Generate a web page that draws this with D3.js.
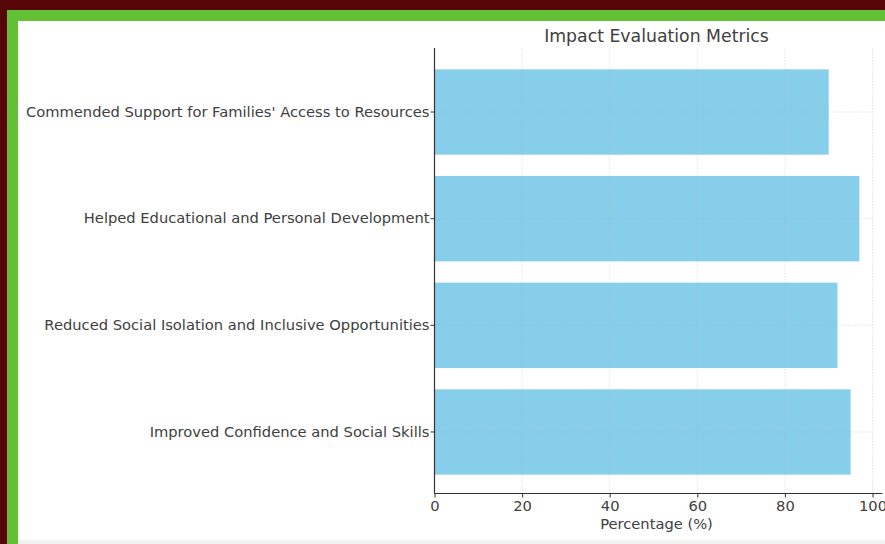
<!DOCTYPE html>
<html><head><meta charset="utf-8">
<script src="https://cdn.jsdelivr.net/npm/d3@7"></script>
<style>
html,body{margin:0;padding:0;background:#560606;}
svg{display:block;}
</style></head>
<body>
<svg id="chart" width="885" height="544"></svg>
<script>
const title = "Impact Evaluation Metrics";
const xLabel = "Percentage (%)";
const categories = [
  "Improved Confidence and Social Skills",
  "Reduced Social Isolation and Inclusive Opportunities",
  "Helped Educational and Personal Development",
  "Commended Support for Families' Access to Resources"
];
const values = [95, 92, 97, 90];
const xTicks = [0, 20, 40, 60, 80, 100];

const svg = d3.select("#chart");
// frame
svg.append("rect").attr("x",0).attr("y",0).attr("width",885).attr("height",544).attr("fill","#560606");
svg.append("rect").attr("x",7).attr("y",10).attr("width",878).attr("height",534).attr("fill","#63bf33");
svg.append("rect").attr("x",18).attr("y",21).attr("width",867).attr("height",523).attr("fill","#ffffff");
svg.append("rect").attr("x",18).attr("y",540).attr("width",867).attr("height",4).attr("fill","#f2f2f2");

const pLeft = 434.5, pRight = 872.5, pTop = 48, pBottom = 493.5;
const x = d3.scaleLinear().domain([0,100]).range([pLeft,pRight]);
const y = d3.scaleBand().domain(categories).range([485.3, 58.7]).paddingInner(0.2).paddingOuter(0.1);

const font = "DejaVu Sans, Verdana, sans-serif";
const txt = "#404040";

// bars
svg.append("g").selectAll("rect").data(categories).join("rect")
  .attr("x", x(0))
  .attr("y", d => y(d))
  .attr("width", (d,i) => x(values[i]) - x(0))
  .attr("height", y.bandwidth())
  .attr("fill", "#87ceeb");

// grid (on top, faint)
const grid = svg.append("g");
grid.selectAll("line.v").data(xTicks.slice(1)).join("line")
  .attr("x1", d=>x(d)).attr("x2", d=>x(d)).attr("y1", pTop).attr("y2", pBottom)
  .attr("stroke", "#b0b0b0").attr("stroke-opacity",0.45).attr("stroke-width",0.8).attr("stroke-dasharray","1.5,1.5");
grid.selectAll("line.h").data(categories).join("line")
  .attr("x1", pLeft).attr("x2", pRight).attr("y1", d=>y(d)+y.bandwidth()/2).attr("y2", d=>y(d)+y.bandwidth()/2)
  .attr("stroke", "#b0b0b0").attr("stroke-opacity",0.45).attr("stroke-width",0.8).attr("stroke-dasharray","1.5,1.5");

// axes
const xAxis = d3.axisBottom(x).tickValues(xTicks).tickSize(4).tickPadding(3).tickSizeOuter(0);
const gx = svg.append("g").attr("transform", `translate(0,${pBottom})`).call(xAxis);
gx.select(".domain").attr("stroke","#333").attr("stroke-width",1.2).attr("d", `M${pLeft},0H${pRight+10}`);
gx.selectAll(".tick line").attr("stroke","#333").attr("stroke-width",1);
gx.selectAll("text").attr("font-family",font).attr("font-size","14.7px").attr("fill",txt);

const yAxis = d3.axisLeft(y).tickSize(4).tickPadding(1).tickSizeOuter(0);
const gy = svg.append("g").attr("transform", `translate(${pLeft},0)`).call(yAxis);
gy.select(".domain").attr("stroke","#333").attr("stroke-width",1.2).attr("d", `M0,${pTop}V${pBottom}`);
gy.selectAll(".tick line").attr("stroke","#333").attr("stroke-width",1);
gy.selectAll("text").attr("font-family",font).attr("font-size","14.7px").attr("fill",txt);

// title and label
svg.append("text").attr("x", (pLeft+pRight)/2 + 3).attr("y", 42).attr("text-anchor","middle")
  .attr("font-family",font).attr("font-size","17.3px").attr("fill",txt).text(title);
svg.append("text").attr("x", (pLeft+pRight)/2 + 3).attr("y", 529).attr("text-anchor","middle")
  .attr("font-family",font).attr("font-size","14.7px").attr("fill",txt).text(xLabel);
</script>
</body></html>
